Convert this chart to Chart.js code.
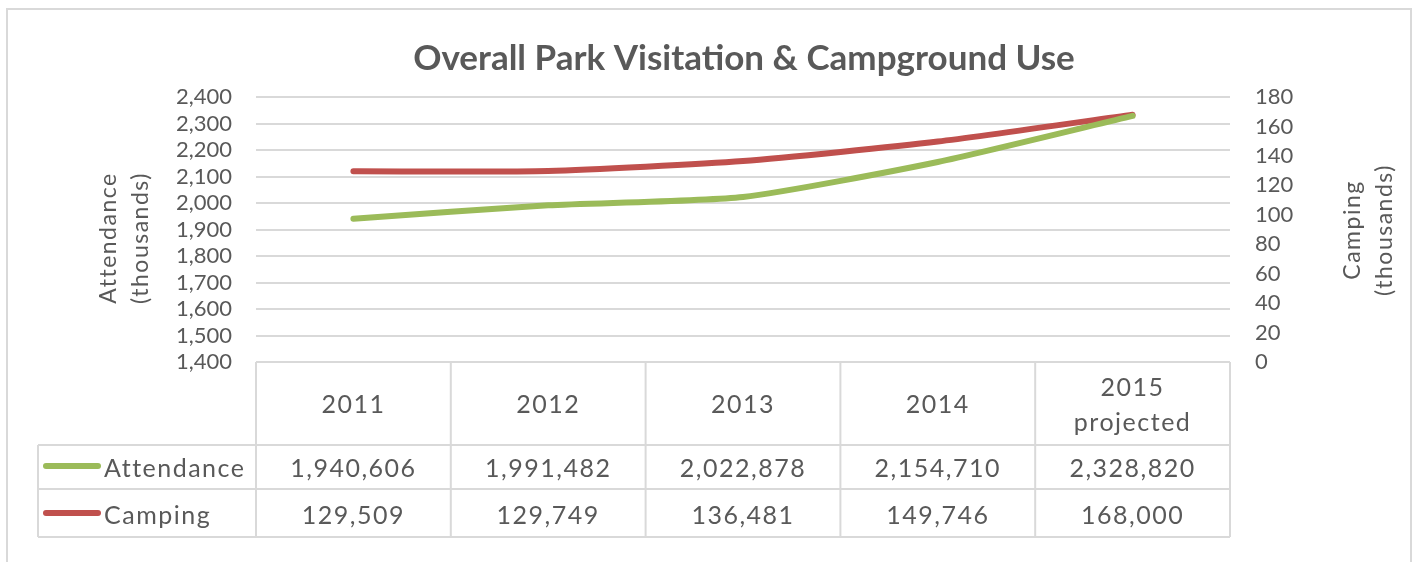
<!DOCTYPE html>
<html>
<head>
<meta charset="utf-8">
<script src="https://cdn.jsdelivr.net/npm/chart.js@4.4.1/dist/chart.umd.min.js"></script>
<style>
  html, body { margin: 0; padding: 0; background: #fff; }
  .wrap { position: relative; width: 1416px; height: 562px; }
</style>
</head>
<body>
<div class="wrap"><canvas id="chart" width="1416" height="562"></canvas></div>
<script>
const years = ["2011", "2012", "2013", "2014", ["2015", "projected"]];
const attendance = [1940606, 1991482, 2022878, 2154710, 2328820];
const camping = [129509, 129749, 136481, 149746, 168000];
const attendanceTicks = [1400, 1500, 1600, 1700, 1800, 1900, 2000, 2100, 2200, 2300, 2400];
const campingTicks = [0, 20, 40, 60, 80, 100, 120, 140, 160, 180];

const FONT = "Lato";
const TEXT = "#595959";
const GRID = "#d9d9d9";
const GREEN = "#9bbb59";
const RED = "#c0504d";

const fmt = (v) => v.toLocaleString("en-US");

// chart frame, title, axis titles and the data table under the plot
const tablePlugin = {
  id: "dataTable",
  afterDraw(chart) {
    const { ctx, chartArea, scales } = chart;
    const x = scales.x;
    const n = years.length;
    const colW = (chartArea.right - chartArea.left) / n;
    const top = chartArea.bottom;
    const headBottom = 445;
    const row1Bottom = 489;
    const row2Bottom = 537;
    const legendLeft = 38;

    ctx.save();
    // outer frame
    ctx.strokeStyle = GRID;
    ctx.lineWidth = 2;
    ctx.beginPath();
    ctx.moveTo(7, 562);
    ctx.lineTo(7, 9);
    ctx.lineTo(1411, 9);
    ctx.lineTo(1411, 562);
    ctx.stroke();

    // title
    ctx.fillStyle = TEXT;
    ctx.font = "bold 35px " + FONT;
    ctx.textAlign = "center";
    ctx.textBaseline = "middle";
    ctx.fillText("Overall Park Visitation & Campground Use", 744, 59);

    // axis titles
    ctx.font = "23px " + FONT;
    ctx.letterSpacing = "1.5px";
    ctx.save();
    ctx.translate(125, 238);
    ctx.rotate(-Math.PI / 2);
    ctx.fillText("Attendance", 0, -16);
    ctx.fillText("(thousands)", 0, 16);
    ctx.restore();
    ctx.save();
    ctx.translate(1369, 230);
    ctx.rotate(-Math.PI / 2);
    ctx.fillText("Camping", 0, -16);
    ctx.fillText("(thousands)", 0, 16);
    ctx.restore();

    // table grid
    ctx.strokeStyle = GRID;
    ctx.lineWidth = 2;
    ctx.beginPath();
    ctx.moveTo(chartArea.left, top);
    ctx.lineTo(chartArea.right, top);
    ctx.moveTo(legendLeft, headBottom);
    ctx.lineTo(chartArea.right, headBottom);
    ctx.moveTo(legendLeft, row1Bottom);
    ctx.lineTo(chartArea.right, row1Bottom);
    ctx.moveTo(legendLeft, row2Bottom);
    ctx.lineTo(chartArea.right, row2Bottom);
    ctx.moveTo(legendLeft, headBottom);
    ctx.lineTo(legendLeft, row2Bottom);
    for (let i = 0; i <= n; i++) {
      const cx = chartArea.left + i * colW;
      ctx.moveTo(cx, top);
      ctx.lineTo(cx, row2Bottom);
    }
    ctx.stroke();

    // header and values
    ctx.fillStyle = TEXT;
    ctx.font = "25px " + FONT;
    ctx.letterSpacing = "1.5px";
    ctx.textAlign = "center";
    ctx.textBaseline = "middle";
    years.forEach((label, i) => {
      const cx = x.getPixelForValue(i);
      if (Array.isArray(label)) {
        ctx.fillText(label[0], cx, 388);
        ctx.fillText(label[1], cx, 423);
      } else {
        ctx.fillText(label, cx, 405);
      }
      ctx.fillText(fmt(attendance[i]), cx, 469);
      ctx.fillText(fmt(camping[i]), cx, 516);
    });

    // legend keys in the first column
    const rows = [
      { name: "Attendance", color: GREEN, y: 466 },
      { name: "Camping", color: RED, y: 513 },
    ];
    rows.forEach((r) => {
      ctx.strokeStyle = r.color;
      ctx.lineWidth = 6;
      ctx.lineCap = "round";
      ctx.beginPath();
      ctx.moveTo(46, r.y);
      ctx.lineTo(98, r.y);
      ctx.stroke();
      ctx.fillStyle = TEXT;
      ctx.textAlign = "left";
      ctx.fillText(r.name, 104, r.y + 3);
    });
    ctx.restore();
  },
};

new Chart(document.getElementById("chart"), {
  type: "line",
  data: {
    labels: years,
    datasets: [
      {
        label: "Attendance",
        data: attendance.map((v) => v / 1000),
        borderColor: GREEN,
        backgroundColor: GREEN,
        borderWidth: 6,
        borderCapStyle: "round",
        pointRadius: 0,
        tension: 0.2,
        yAxisID: "y",
      },
      {
        label: "Camping",
        data: camping.map((v) => v / 1000),
        borderColor: RED,
        backgroundColor: RED,
        borderWidth: 6,
        borderCapStyle: "round",
        pointRadius: 0,
        tension: 0.2,
        yAxisID: "y1",
      },
    ],
  },
  options: {
    responsive: false,
    animation: false,
    layout: { padding: { top: 97, bottom: 200, left: 0, right: 0 } },
    plugins: {
      legend: { display: false },
      tooltip: { enabled: false },
      title: { display: false },
    },
    scales: {
      x: { display: false, offset: true },
      y: {
        position: "left",
        min: attendanceTicks[0],
        max: attendanceTicks[attendanceTicks.length - 1],
        afterBuildTicks: (s) => { s.ticks = attendanceTicks.map((v) => ({ value: v })); },
        afterFit: (s) => { s.width = 256; },
        border: { display: false },
        grid: { color: GRID, lineWidth: 2, drawTicks: false },
        ticks: {
          color: TEXT,
          font: { family: FONT, size: 22 },
          padding: 24,
          autoSkip: false,
          callback: (v) => fmt(v),
        },
      },
      y1: {
        position: "right",
        min: campingTicks[0],
        max: campingTicks[campingTicks.length - 1],
        afterBuildTicks: (s) => { s.ticks = campingTicks.map((v) => ({ value: v })); },
        afterFit: (s) => { s.width = 186; },
        border: { display: false },
        grid: { display: false, drawTicks: false },
        ticks: {
          color: TEXT,
          font: { family: FONT, size: 22 },
          padding: 25,
          autoSkip: false,
        },
      },
    },
  },
  plugins: [tablePlugin],
});
</script>
</body>
</html>
